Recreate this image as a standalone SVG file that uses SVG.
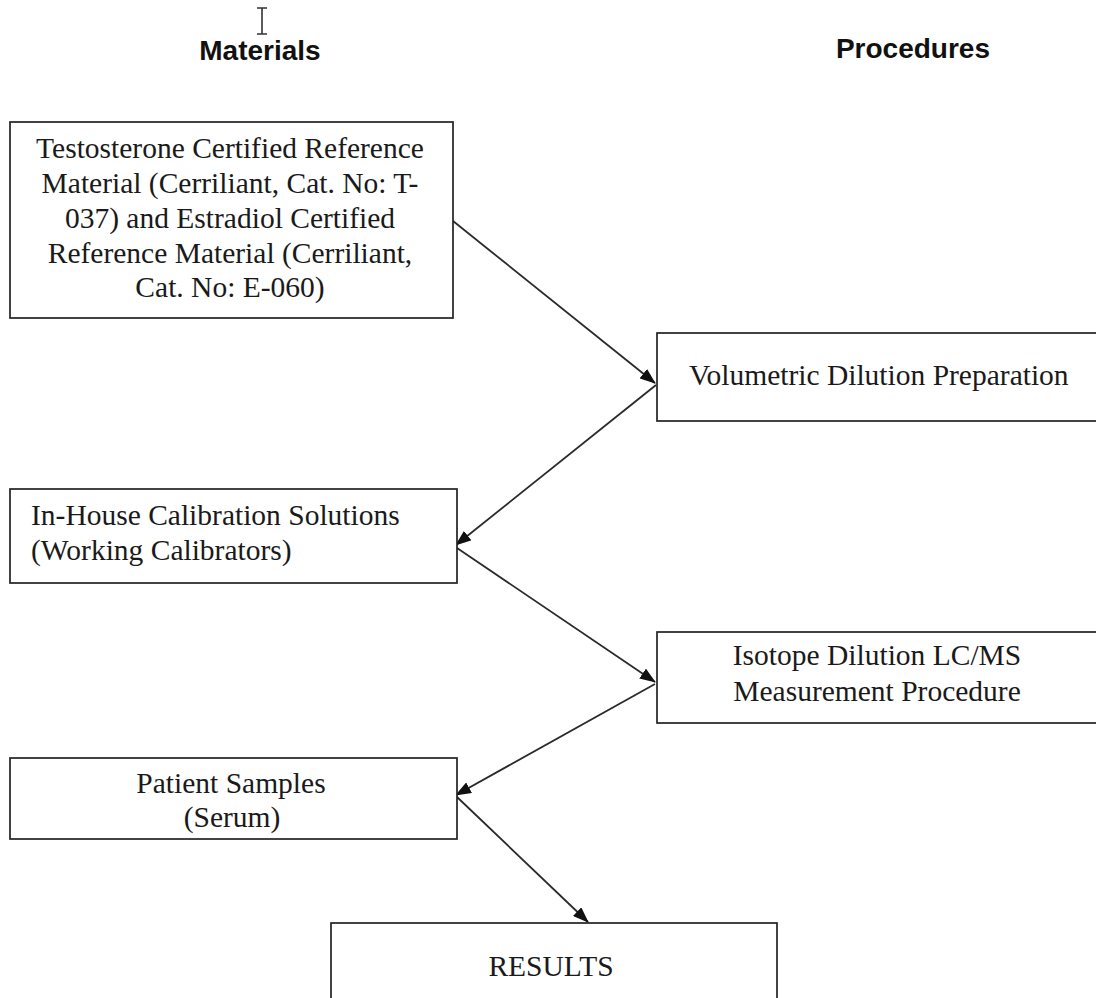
<svg xmlns="http://www.w3.org/2000/svg" width="1096" height="998" viewBox="0 0 1096 998">
<defs>
<marker id="ah" markerWidth="16" markerHeight="12" refX="15" refY="6" orient="auto" markerUnits="userSpaceOnUse">
<path d="M0,0 L16,6 L0,12 z" fill="#111"/>
</marker>
<style>
.box{fill:#fff;stroke:#222;stroke-width:1.7}
.t{font-family:"Liberation Serif","Times New Roman",serif;font-size:29.5px;fill:#1a1a1a}
.h{font-family:"Liberation Sans",Arial,sans-serif;font-size:28px;font-weight:bold;fill:#111}
.c{text-anchor:middle}
.conn{stroke:#2a2a2a;stroke-width:1.8;fill:none;marker-end:url(#ah)}
</style>
</defs>
<rect width="1096" height="998" fill="#fff"/>
<g id="cursor" stroke="#333" stroke-width="1.6" fill="none">
<path d="M262,8 V34 M257,8 H267 M257,34 H267"/>
</g>
<g id="header-materials"><text class="h c" x="260" y="60">Materials</text></g>
<g id="header-procedures"><text class="h" x="990" y="58" text-anchor="end">Procedures</text></g>
<g id="connectors">
<line class="conn" x1="453" y1="221" x2="655" y2="383"/>
<line class="conn" x1="656" y1="385" x2="456" y2="545"/>
<line class="conn" x1="457" y1="548" x2="655" y2="682"/>
<line class="conn" x1="655" y1="684" x2="456" y2="795"/>
<line class="conn" x1="457" y1="797" x2="588" y2="922"/>
</g>
<g id="node-crm">
<rect class="box" x="10" y="122" width="443" height="196"/>
<text class="t c" x="230" y="158">Testosterone Certified Reference</text>
<text class="t c" x="230" y="193">Material (Cerriliant,  Cat. No: T-</text>
<text class="t c" x="230" y="228">037) and Estradiol Certified</text>
<text class="t c" x="230" y="263">Reference Material (Cerriliant,</text>
<text class="t c" x="230" y="297">Cat. No: E-060)</text>
</g>
<g id="node-volumetric">
<rect class="box" x="657" y="333" width="445" height="88"/>
<text class="t" x="689" y="385">Volumetric Dilution Preparation</text>
</g>
<g id="node-inhouse">
<rect class="box" x="10" y="489" width="447" height="94"/>
<text class="t" x="31" y="525">In-House Calibration Solutions</text>
<text class="t" x="31" y="560">(Working Calibrators)</text>
</g>
<g id="node-isotope">
<rect class="box" x="657" y="632" width="445" height="91"/>
<text class="t c" x="877" y="665">Isotope Dilution LC/MS</text>
<text class="t c" x="877" y="701">Measurement  Procedure</text>
</g>
<g id="node-patient">
<rect class="box" x="10" y="758" width="447" height="81"/>
<text class="t c" x="231" y="793">Patient Samples</text>
<text class="t c" x="232" y="827">(Serum)</text>
</g>
<g id="node-results">
<rect class="box" x="331" y="923" width="446" height="90"/>
<text class="t c" x="551" y="976">RESULTS</text>
</g>
</svg>
